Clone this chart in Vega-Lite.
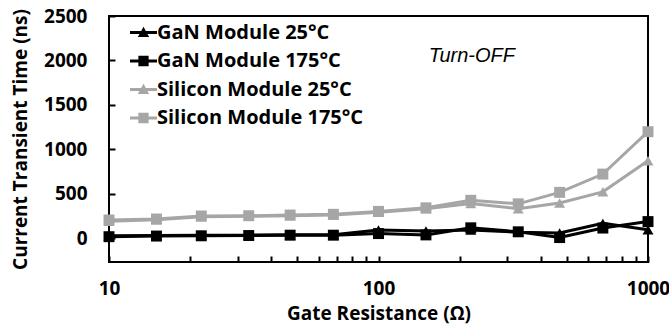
{
  "$schema": "https://vega.github.io/schema/vega-lite/v6.json",
  "width": 539,
  "height": 246,
  "autosize": {"type": "none"},
  "padding": {"left": 109, "top": 16, "right": 21, "bottom": 62},
  "background": "white",
  "config": {
    "view": {"stroke": "black", "strokeWidth": 2},
    "font": "Open Sans"
  },
  "resolve": {"scale": {"shape": "independent", "color": "independent"}},
  "datasets": {
    "series": [
      {"r": 10, "t": 25, "s": "GaN Module 25°C"},
      {"r": 15, "t": 28, "s": "GaN Module 25°C"},
      {"r": 22, "t": 30, "s": "GaN Module 25°C"},
      {"r": 33, "t": 32, "s": "GaN Module 25°C"},
      {"r": 47, "t": 38, "s": "GaN Module 25°C"},
      {"r": 68, "t": 38, "s": "GaN Module 25°C"},
      {"r": 100, "t": 90, "s": "GaN Module 25°C"},
      {"r": 150, "t": 80, "s": "GaN Module 25°C"},
      {"r": 220, "t": 90, "s": "GaN Module 25°C"},
      {"r": 330, "t": 65, "s": "GaN Module 25°C"},
      {"r": 470, "t": 56, "s": "GaN Module 25°C"},
      {"r": 680, "t": 165, "s": "GaN Module 25°C"},
      {"r": 1000, "t": 92, "s": "GaN Module 25°C"},
      {"r": 10, "t": 15, "s": "GaN Module 175°C"},
      {"r": 15, "t": 22, "s": "GaN Module 175°C"},
      {"r": 22, "t": 25, "s": "GaN Module 175°C"},
      {"r": 33, "t": 28, "s": "GaN Module 175°C"},
      {"r": 47, "t": 32, "s": "GaN Module 175°C"},
      {"r": 68, "t": 32, "s": "GaN Module 175°C"},
      {"r": 100, "t": 50, "s": "GaN Module 175°C"},
      {"r": 150, "t": 35, "s": "GaN Module 175°C"},
      {"r": 220, "t": 115, "s": "GaN Module 175°C"},
      {"r": 330, "t": 70, "s": "GaN Module 175°C"},
      {"r": 470, "t": 5, "s": "GaN Module 175°C"},
      {"r": 680, "t": 112, "s": "GaN Module 175°C"},
      {"r": 1000, "t": 185, "s": "GaN Module 175°C"},
      {"r": 10, "t": 190, "s": "Silicon Module 25°C"},
      {"r": 15, "t": 205, "s": "Silicon Module 25°C"},
      {"r": 22, "t": 240, "s": "Silicon Module 25°C"},
      {"r": 33, "t": 245, "s": "Silicon Module 25°C"},
      {"r": 47, "t": 250, "s": "Silicon Module 25°C"},
      {"r": 68, "t": 258, "s": "Silicon Module 25°C"},
      {"r": 100, "t": 290, "s": "Silicon Module 25°C"},
      {"r": 150, "t": 330, "s": "Silicon Module 25°C"},
      {"r": 220, "t": 390, "s": "Silicon Module 25°C"},
      {"r": 330, "t": 330, "s": "Silicon Module 25°C"},
      {"r": 470, "t": 395, "s": "Silicon Module 25°C"},
      {"r": 680, "t": 520, "s": "Silicon Module 25°C"},
      {"r": 1000, "t": 870, "s": "Silicon Module 25°C"},
      {"r": 10, "t": 203, "s": "Silicon Module 175°C"},
      {"r": 15, "t": 214, "s": "Silicon Module 175°C"},
      {"r": 22, "t": 248, "s": "Silicon Module 175°C"},
      {"r": 33, "t": 251, "s": "Silicon Module 175°C"},
      {"r": 47, "t": 259, "s": "Silicon Module 175°C"},
      {"r": 68, "t": 267, "s": "Silicon Module 175°C"},
      {"r": 100, "t": 300, "s": "Silicon Module 175°C"},
      {"r": 150, "t": 340, "s": "Silicon Module 175°C"},
      {"r": 220, "t": 425, "s": "Silicon Module 175°C"},
      {"r": 330, "t": 385, "s": "Silicon Module 175°C"},
      {"r": 470, "t": 514, "s": "Silicon Module 175°C"},
      {"r": 680, "t": 720, "s": "Silicon Module 175°C"},
      {"r": 1000, "t": 1197, "s": "Silicon Module 175°C"}
    ],
    "note": [{"r": 222, "t": 2050, "label": "Turn-OFF"}]
  },
  "layer": [
    {
      "data": {"name": "series"},
      "mark": {"type": "line", "strokeWidth": 3, "clip": false},
      "encoding": {
        "x": {
          "field": "r", "type": "quantitative",
          "scale": {"type": "log", "domain": [10, 1000], "nice": false},
          "axis": {
            "title": "Gate Resistance (Ω)",
            "values": [10, 20, 30, 40, 50, 60, 70, 80, 90, 100, 200, 300, 400, 500, 600, 700, 800, 900, 1000],
            "labelExpr": "datum.value == 10 || datum.value == 100 || datum.value == 1000 ? format(datum.value, 'd') : ''",
            "labelOverlap": false, "labelFlush": false,
            "domain": false, "grid": false,
            "tickSize": -6, "tickWidth": 2, "tickColor": "black",
            "labelPadding": 23, "labelFontSize": 19, "labelFontWeight": "bold", "labelColor": "black",
            "titleFontSize": 19, "titleFontWeight": "bold", "titleColor": "black",
            "titleBaseline": "middle", "titleY": 51, "titleX": 269.5
          }
        },
        "y": {
          "field": "t", "type": "quantitative",
          "scale": {"domain": [-270, 2500], "nice": false, "zero": false},
          "axis": {
            "title": "Current Transient Time (ns)",
            "values": [0, 500, 1000, 1500, 2000, 2500],
            "format": "d",
            "domain": false, "grid": false,
            "tickSize": -6, "tickWidth": 2, "tickColor": "black",
            "labelPadding": 28, "labelFontSize": 19, "labelFontWeight": "bold", "labelColor": "black",
            "titleFontSize": 19, "titleFontWeight": "bold", "titleColor": "black",
            "titleBaseline": "middle", "titleX": -89, "titleY": 123
          }
        },
        "detail": {"field": "s", "type": "nominal"},
        "stroke": {
          "condition": {"test": "indexof(datum.s, 'GaN') >= 0", "value": "#000000"},
          "value": "#a6a6a6"
        },
        "order": {"field": "r", "type": "quantitative"}
      }
    },
    {
      "data": {"name": "series"},
      "mark": {"type": "point", "filled": true, "opacity": 1, "size": 120, "clip": false},
      "encoding": {
        "x": {"field": "r", "type": "quantitative"},
        "y": {"field": "t", "type": "quantitative"},
        "color": {
          "field": "s", "type": "nominal",
          "scale": {
            "domain": ["GaN Module 25°C", "GaN Module 175°C", "Silicon Module 25°C", "Silicon Module 175°C"],
            "range": ["#000000", "#000000", "#a6a6a6", "#a6a6a6"]
          },
          "legend": null
        },
        "shape": {
          "field": "s", "type": "nominal",
          "scale": {
            "domain": ["GaN Module 25°C", "GaN Module 175°C", "Silicon Module 25°C", "Silicon Module 175°C"],
            "range": ["triangle-up", "square", "triangle-up", "square"]
          },
          "legend": null
        }
      }
    },
    {
      "data": {"name": "series"},
      "transform": [{"filter": "datum.r < 0"}],
      "mark": {"type": "point", "filled": true, "opacity": 1, "clip": false},
      "encoding": {
        "x": {"field": "r", "type": "quantitative"},
        "y": {"field": "t", "type": "quantitative"},
        "color": {
          "field": "s", "type": "nominal",
          "scale": {
            "domain": ["GaN Module 25°C", "GaN Module 175°C", "Silicon Module 25°C", "Silicon Module 175°C"],
            "range": ["#000000", "#000000", "#a6a6a6", "#a6a6a6"]
          },
          "legend": {
            "title": null,
            "orient": "none",
            "legendX": 21,
            "legendY": 3,
            "padding": 0,
            "rowPadding": 4.5,
            "symbolSize": 729,
            "symbolStrokeWidth": 0,
            "labelOffset": 0,
            "labelFontSize": 20,
            "labelFontWeight": "bold",
            "labelColor": "black",
            "labelLimit": 400
          }
        },
        "shape": {
          "field": "s", "type": "nominal",
          "scale": {
            "domain": ["GaN Module 25°C", "GaN Module 175°C", "Silicon Module 25°C", "Silicon Module 175°C"],
            "range": [
              "M-1,-0.11H1V0.11H-1Z M0,-0.42L0.42,0.33L-0.42,0.33Z",
              "M-1,-0.11H1V0.11H-1Z M-0.38,-0.38H0.38V0.38H-0.38Z",
              "M-1,-0.11H1V0.11H-1Z M0,-0.42L0.42,0.33L-0.42,0.33Z",
              "M-1,-0.11H1V0.11H-1Z M-0.38,-0.38H0.38V0.38H-0.38Z"
            ]
          },
          "legend": {
            "title": null,
            "orient": "none",
            "legendX": 21,
            "legendY": 3,
            "padding": 0,
            "rowPadding": 4.5,
            "symbolSize": 729,
            "symbolStrokeWidth": 0,
            "labelOffset": 0,
            "labelFontSize": 20,
            "labelFontWeight": "bold",
            "labelColor": "black",
            "labelLimit": 400
          }
        }
      }
    },
    {
      "data": {"name": "note"},
      "mark": {"type": "text", "font": "Liberation Sans", "fontStyle": "italic", "fontSize": 20, "align": "center", "baseline": "middle", "color": "black"},
      "encoding": {
        "x": {"field": "r", "type": "quantitative"},
        "y": {"field": "t", "type": "quantitative"},
        "text": {"field": "label"}
      }
    }
  ]
}
